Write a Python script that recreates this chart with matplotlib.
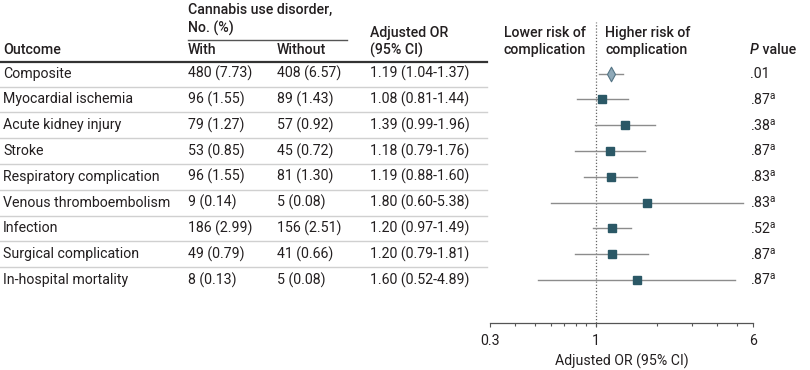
import matplotlib
matplotlib.use("Agg")
import matplotlib.pyplot as plt
from matplotlib.path import Path
import numpy as np

# ---------------- data ----------------
outcomes = ["Composite", "Myocardial ischemia", "Acute kidney injury", "Stroke",
            "Respiratory complication", "Venous thromboembolism", "Infection",
            "Surgical complication", "In-hospital mortality"]
with_n = [480, 96, 79, 53, 96, 9, 186, 49, 8]
with_pct = [7.73, 1.55, 1.27, 0.85, 1.55, 0.14, 2.99, 0.79, 0.13]
without_n = [408, 89, 57, 45, 81, 5, 156, 41, 5]
without_pct = [6.57, 1.43, 0.92, 0.72, 1.30, 0.08, 2.51, 0.66, 0.08]
or_est = [1.19, 1.08, 1.39, 1.18, 1.19, 1.80, 1.20, 1.20, 1.60]
ci_lo = [1.04, 0.81, 0.99, 0.79, 0.88, 0.60, 0.97, 0.79, 0.52]
ci_hi = [1.37, 1.44, 1.96, 1.76, 1.60, 5.38, 1.49, 1.81, 4.89]
p_vals = [".01", ".87", ".38", ".87", ".83", ".83", ".52", ".87", ".87"]
p_notes = ["", "a", "a", "a", "a", "a", "a", "a", "a"]
x_ticks = [0.3, 1, 6]
x_tick_labels = ["0.3", "1", "6"]
x_minor = [0.4, 0.5, 0.6, 0.7, 0.8, 0.9, 2, 3, 4, 5]

# ---------------- style ----------------
FONT = "Roboto"
plt.rcParams["font.family"] = [FONT, "DejaVu Sans"]
plt.rcParams["mathtext.fontset"] = "custom"
plt.rcParams["mathtext.rm"] = FONT
plt.rcParams["mathtext.it"] = FONT + ":italic"
plt.rcParams["mathtext.bf"] = FONT + ":bold"
FS = 10.2
HW = "medium"
TXT = "#231f20"
W, H = 810, 370

fig = plt.figure(figsize=(W / 100, H / 100), dpi=100)
bg = fig.add_axes([0, 0, 1, 1])
bg.set_xlim(0, W)
bg.set_ylim(H, 0)
bg.axis("off")

row0, dy = 73.6, 25.8
rows_y = [row0 + dy * i for i in range(len(outcomes))]

col_out, col_with, col_without, col_or, col_p = 3, 188, 277, 370, 750


def t(x, y, s, **kw):
    kw.setdefault("fontsize", FS)
    kw.setdefault("color", TXT)
    return bg.text(x, y, s, va="center", ha=kw.pop("ha", "left"), **kw)


# header
t(col_with, 10, "Cannabis use disorder,", fontweight=HW)
t(col_with, 28, "No. (%)", fontweight=HW)
bg.plot([col_with, 347], [39.5, 39.5], color="#555555", lw=1.0)
t(col_out, 50, "Outcome", fontweight=HW)
t(col_with, 50, "With", fontweight=HW)
t(col_without, 50, "Without", fontweight=HW)
t(col_or, 33, "Adjusted OR", fontweight=HW)
t(col_or, 50, "(95% CI)", fontweight=HW)
bg.plot([0, 487], [62, 62], color="#333333", lw=1.6)

t(586, 33, "Lower risk of", fontweight=HW, ha="right")
t(586, 50, "complication", fontweight=HW, ha="right")
t(605, 33, "Higher risk of", fontweight=HW)
t(605, 50, "complication", fontweight=HW)

pt = t(col_p, 50, "P", fontweight=HW, style="italic")
fig.canvas.draw()
bb = pt.get_window_extent()
t(col_p + bb.width + 0.5, 50, " value", fontweight=HW)

# table rows
for i, y in enumerate(rows_y):
    t(col_out, y, outcomes[i])
    t(col_with, y, f"{with_n[i]} ({with_pct[i]:.2f})")
    t(col_without, y, f"{without_n[i]} ({without_pct[i]:.2f})")
    t(col_or, y, f"{or_est[i]:.2f} ({ci_lo[i]:.2f}-{ci_hi[i]:.2f})")
    s = p_vals[i] + (r"$^{\mathrm{" + p_notes[i] + "}}$" if p_notes[i] else "")
    t(col_p, y, s)
    if i < len(outcomes) - 1:
        bg.plot([0, 487], [y + dy / 2, y + dy / 2], color="#d0d0d0", lw=1.0)

# ---------------- forest plot ----------------
ax_left, ax_right, ax_top, ax_bot = 490, 753, 22, 322.5
ax = fig.add_axes([ax_left / W, 1 - ax_bot / H, (ax_right - ax_left) / W, (ax_bot - ax_top) / H])
ax.set_xscale("log")
ax.set_xlim(0.3, 6)
ax.set_ylim((ax_bot - row0) / dy, (ax_top - row0) / dy)
ax.patch.set_alpha(0)
for sp in ["top", "right", "left"]:
    ax.spines[sp].set_visible(False)
ax.spines["bottom"].set_color("#555555")
ax.spines["bottom"].set_linewidth(0.9)
ax.set_yticks([])
ax.set_xticks(x_ticks)
ax.set_xticklabels(x_tick_labels, fontsize=FS, color=TXT)
ax.set_xticks(x_minor, minor=True)
ax.set_xticklabels([], minor=True)
ax.tick_params(axis="x", which="major", length=3.2, width=0.8, color="#555555", pad=5)
ax.tick_params(axis="x", which="minor", length=2.3, width=0.8, color="#555555")
ax.set_xlabel("Adjusted OR (95% CI)", fontsize=FS, color=TXT, labelpad=4)

ax.axvline(1, ymin=-0.01, ymax=1.0, color="#666666", lw=0.9, ls=(0, (1, 1.5)), clip_on=False, zorder=1)

ypos = np.arange(len(outcomes))
for i in ypos:
    ax.plot([ci_lo[i], ci_hi[i]], [i, i], color="#8c8c8c", lw=1.0, zorder=2)

diamond = Path([(0, 1), (0.55, 0), (0, -1), (-0.55, 0), (0, 1)],
               [Path.MOVETO, Path.LINETO, Path.LINETO, Path.LINETO, Path.CLOSEPOLY])
ax.plot(or_est[:1], ypos[:1], ls="none", marker=diamond, markersize=10.5,
        markerfacecolor="#8fa9b8", markeredgecolor="#557585", markeredgewidth=0.8, zorder=3)
ax.plot(or_est[1:], ypos[1:], ls="none", marker="s", markersize=5.3,
        markerfacecolor="#2b5866", markeredgecolor="#2b5866", zorder=3)

fig.savefig("out.png", dpi=100)
